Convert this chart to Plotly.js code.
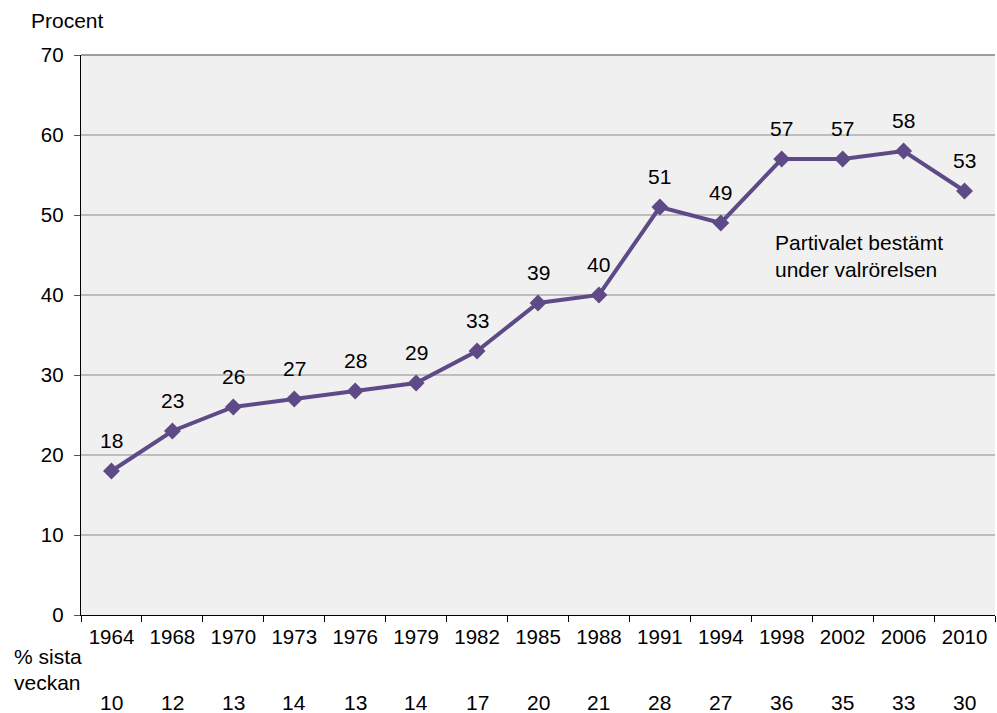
<!DOCTYPE html>
<html>
<head>
<meta charset="utf-8">
<script src="https://cdn.plot.ly/plotly-3.0.1.min.js"></script>
<style>html,body{margin:0;padding:0;background:#fff;}#chart{width:997px;height:713px;}</style>
</head>
<body>
<div id="chart"></div>
<script>
const years = ["1964","1968","1970","1973","1976","1979","1982","1985","1988","1991","1994","1998","2002","2006","2010"];
const campaignShare = [18,23,26,27,28,29,33,39,40,51,49,57,57,58,53];
const lastWeekShare = [10,12,13,14,13,14,17,20,21,28,27,36,35,33,30];
const yTicks = [0,10,20,30,40,50,60,70];

const FONT = "Liberation Sans, Arial, sans-serif";
const FS = 21;
const purple = "#5e4a86";

const annotations = [];
years.forEach((y, i) => {
  annotations.push({x: i, y: campaignShare[i], xref: "x", yref: "y", text: String(campaignShare[i]),
    showarrow: false, yshift: 31, font: {family: FONT, size: FS, color: "#000"}});
  annotations.push({x: i, y: -0.157, xref: "x", yref: "paper", text: String(lastWeekShare[i]),
    showarrow: false, yanchor: "middle", font: {family: FONT, size: FS, color: "#000"}});
});
annotations.push({x: -0.0755, y: -0.0735, xref: "paper", yref: "paper", xanchor: "left", yanchor: "middle",
  text: "% sista", showarrow: false, font: {family: FONT, size: FS, color: "#000"}});
annotations.push({x: -0.0755, y: -0.1205, xref: "paper", yref: "paper", xanchor: "left", yanchor: "middle",
  text: "veckan", showarrow: false, font: {family: FONT, size: FS, color: "#000"}});
annotations.push({x: 0.757, y: 44.9, xref: "paper", yref: "y", xanchor: "left", yanchor: "middle", align: "left",
  text: "Partivalet bestämt<br>under valrörelsen", showarrow: false, font: {family: FONT, size: FS, color: "#000"}});
annotations.push({x: -0.057, y: 1.037, xref: "paper", yref: "paper", xanchor: "left", yanchor: "bottom",
  text: "Procent", showarrow: false, font: {family: FONT, size: FS, color: "#000"}});

const trace = {
  x: years, y: campaignShare, type: "scatter", mode: "lines+markers",
  line: {color: purple, width: 4},
  marker: {symbol: "diamond", size: 13, color: purple},
  cliponaxis: false, hoverinfo: "skip"
};

const layout = {
  width: 997, height: 713,
  margin: {l: 81, r: 2, t: 55, b: 98},
  paper_bgcolor: "#ffffff", plot_bgcolor: "#f0f0f0",
  showlegend: false,
  font: {family: FONT, size: FS, color: "#000"},
  xaxis: {type: "category", tickson: "boundaries", ticks: "outside", ticklen: 6, tickcolor: "#000",
    showline: true, linecolor: "#000", linewidth: 1.3, showgrid: false, zeroline: false, ticklabelstandoff: 3,
    tickfont: {family: FONT, size: 20.5, color: "#000"}, range: [-0.5, 14.5], fixedrange: true},
  yaxis: {range: [0, 70], tickvals: yTicks, ticks: "outside", ticklen: 6, tickcolor: "#555",
    showline: true, linecolor: "#000", linewidth: 1.3, showgrid: true, gridcolor: "#bdbdbd", gridwidth: 1.2,
    zeroline: false, tickfont: {family: FONT, size: 20.5, color: "#000"}, ticklabelstandoff: 6, fixedrange: true},
  shapes: [{type: "line", xref: "paper", yref: "paper", x0: 0, x1: 1, y0: 1, y1: 1,
    line: {color: "#7f7f7f", width: 1.3}}],
  annotations: annotations
};

Plotly.newPlot("chart", [trace], layout, {displayModeBar: false, staticPlot: true});
</script>
</body>
</html>
